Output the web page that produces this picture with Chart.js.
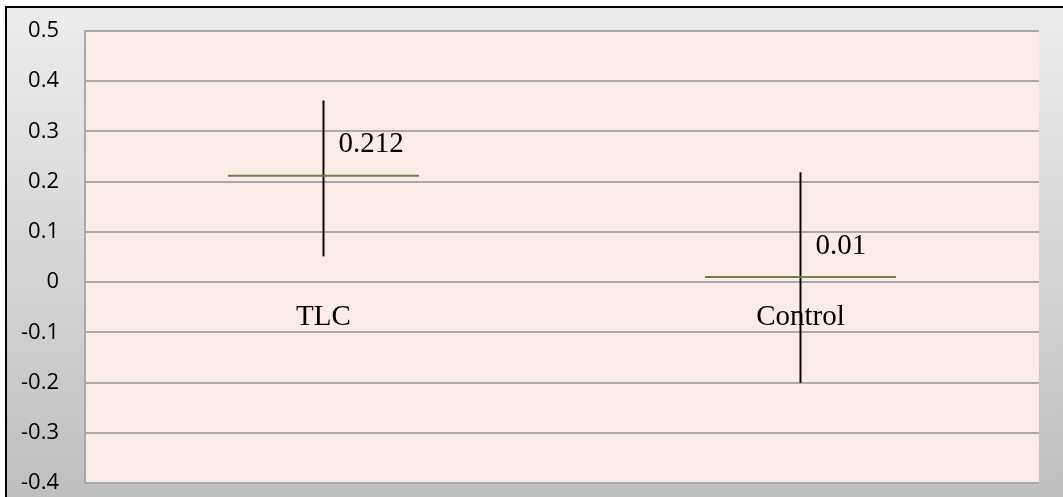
<!DOCTYPE html>
<html>
<head>
<meta charset="utf-8">
<script src="https://cdn.jsdelivr.net/npm/chart.js@4/dist/chart.umd.min.js"></script>
<style>
  html, body { margin: 0; padding: 0; background: #fff; }
  #marco {
    position: absolute; left: 5px; top: 6px; right: 0; bottom: 0;
    border-top: 2px solid #000; border-left: 2px solid #000;
    background: linear-gradient(#ededed, #bfbfbf);
  }
  #grafico { position: absolute; left: 0; top: 0; }
</style>
</head>
<body>
<div id="marco"></div>
<canvas id="grafico" width="1063" height="497"></canvas>
<script>
// Datos
const categorias = ['TLC', 'Control'];
const medias = [0.212, 0.01];
const errorInferior = [0.052, -0.2];
const errorSuperior = [0.361, 0.218];
const etiquetasValor = ['0.212', '0.01'];
const etiquetasEjeY = ['-0.4', '-0.3', '-0.2', '-0.1', '0', '0.1', '0.2', '0.3', '0.4', '0.5'];

const barrasError = categorias.map((c, i) => [errorInferior[i], errorSuperior[i]]);
const fuenteSerif = '29px "Liberation Serif", "Times New Roman", serif';

// Fondo rosado del área de trazado
const fondoArea = {
  id: 'fondoArea',
  beforeDraw(chart) {
    const { ctx, chartArea: a } = chart;
    ctx.save();
    ctx.fillStyle = '#fbebe6';
    ctx.fillRect(a.left, a.top, a.right - a.left, a.bottom - a.top);
    ctx.restore();
  }
};

// Etiquetas de valor y de categoría (el eje de categorías cruza en 0)
const etiquetas = {
  id: 'etiquetas',
  afterDatasetsDraw(chart) {
    const { ctx, scales } = chart;
    const meta = chart.getDatasetMeta(1);
    const yCero = scales.y.getPixelForValue(0);
    ctx.save();
    ctx.font = fuenteSerif;
    ctx.fillStyle = '#000';
    ctx.textBaseline = 'middle';
    ctx.textAlign = 'left';
    meta.data.forEach((pt, i) => {
      ctx.fillText(etiquetasValor[i], pt.x + 15, pt.y - 31);
    });
    ctx.textAlign = 'center';
    categorias.forEach((c, i) => {
      ctx.fillText(c, scales.x.getPixelForValue(i), yCero + 35);
    });
    ctx.restore();
  }
};

new Chart(document.getElementById('grafico'), {
  type: 'bar',
  data: {
    labels: categorias,
    datasets: [
      {
        type: 'bar',
        data: barrasError,
        backgroundColor: '#000',
        borderWidth: 0,
        barThickness: 1.3,
        order: 2
      },
      {
        type: 'line',
        data: medias,
        showLine: false,
        pointStyle: 'line',
        pointRadius: 95.5,
        pointHoverRadius: 95.5,
        pointBorderWidth: 2,
        pointBorderColor: '#6e7f4e',
        pointBackgroundColor: '#6e7f4e',
        order: 1
      }
    ]
  },
  options: {
    responsive: false,
    animation: false,
    events: [],
    layout: { autoPadding: false, padding: { left: 0, top: 31, right: 24, bottom: 14 } },
    plugins: { legend: { display: false }, tooltip: { enabled: false } },
    scales: {
      x: {
        afterFit(scale) { scale.height = 0; },
        grid: { display: false, drawTicks: false },
        border: { display: false },
        ticks: { display: false }
      },
      y: {
        min: -0.4,
        max: 0.5,
        afterFit(scale) {
          scale.width = 85;
          scale.paddingTop = 0;
          scale.paddingBottom = 0;
        },
        grid: { color: '#aaaaaa', lineWidth: 2, drawTicks: false },
        border: { display: true, color: '#aaaaaa', width: 2 },
        ticks: {
          stepSize: 0.1,
          color: '#000',
          padding: 26,
          font: { family: '"Open Sans", sans-serif', size: 22 },
          callback: (v, i) => etiquetasEjeY[i]
        }
      }
    }
  },
  plugins: [fondoArea, etiquetas]
});
</script>
</body>
</html>
